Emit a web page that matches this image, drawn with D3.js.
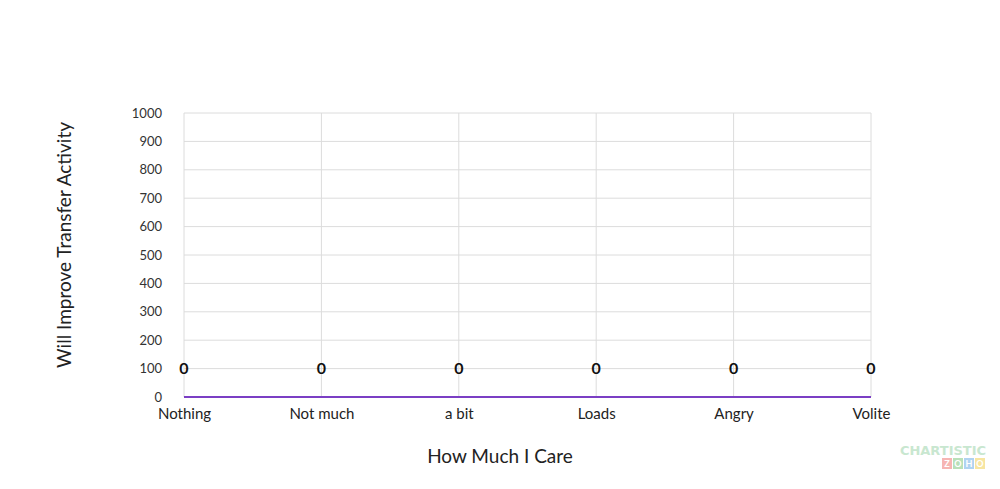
<!DOCTYPE html>
<html><head><meta charset="utf-8">
<script src="https://cdn.jsdelivr.net/npm/d3@7"></script>
<style>body{margin:0;background:#fff;} svg{display:block;font-family:Lato, "Open Sans", sans-serif;}</style>
</head><body>
<svg id="chart" width="1000" height="489"></svg>
<script>
const categories = ["Nothing","Not much","a bit","Loads","Angry","Volite"];
const values = [0,0,0,0,0,0];
const yTicks = [0,100,200,300,400,500,600,700,800,900,1000];
const xTitle = "How Much I Care";
const yTitle = "Will Improve Transfer Activity";

const svg = d3.select("#chart");
const m = {left:184, right:871, top:113, bottom:397};
const x = d3.scalePoint().domain(categories).range([m.left, m.right]).padding(0);
const y = d3.scaleLinear().domain([0,1000]).range([m.bottom, m.top]);

// horizontal grid
svg.append("g").selectAll("line").data(yTicks).join("line")
  .attr("x1", m.left).attr("x2", m.right)
  .attr("y1", d=>y(d)).attr("y2", d=>y(d))
  .attr("stroke","#dcdcdc").attr("stroke-width",1);
// vertical grid
svg.append("g").selectAll("line").data(categories).join("line")
  .attr("x1", d=>x(d)).attr("x2", d=>x(d))
  .attr("y1", m.top).attr("y2", m.bottom)
  .attr("stroke","#dcdcdc").attr("stroke-width",1);

// y axis labels
const yAxis = d3.axisLeft(y).tickValues(yTicks).tickFormat(d3.format("d")).tickSize(0).tickPadding(22);
const gy = svg.append("g").attr("transform",`translate(${m.left},0)`).call(yAxis);
gy.select(".domain").remove();
gy.selectAll("text").attr("font-size",13).attr("fill","#333").style("font-family","Lato, sans-serif");

// x axis labels
const xAxis = d3.axisBottom(x).tickSize(0).tickPadding(11);
const gx = svg.append("g").attr("transform",`translate(0,${m.bottom})`).call(xAxis);
gx.select(".domain").remove();
gx.selectAll("text").attr("font-size",15).attr("fill","#222").style("font-family","Lato, sans-serif");

// line
const line = d3.line().x((d,i)=>x(categories[i])).y(d=>y(d));
svg.append("path").datum(values).attr("d",line)
  .attr("fill","none").attr("stroke","#7b3fc4").attr("stroke-width",2);

// data labels
svg.append("g").selectAll("text").data(values).join("text")
  .attr("x",(d,i)=>x(categories[i])).attr("y",d=>y(d)-23)
  .attr("text-anchor","middle").attr("font-size",16).attr("font-weight","bold")
  .attr("fill","#111").text(d=>d);

// axis titles
svg.append("text").attr("x",500).attr("y",463)
  .attr("text-anchor","middle").attr("font-size",19).attr("fill","#222").text(xTitle);
svg.append("text").attr("transform",`translate(71,245) rotate(-90)`)
  .attr("text-anchor","middle").attr("font-size",19).attr("fill","#222").text(yTitle);

// watermark
svg.append("text").attr("x",943).attr("y",455).attr("text-anchor","middle")
  .attr("font-size",13).attr("font-weight","bold").attr("fill","#bfe3c8").attr("opacity",0.85)
  .style("font-family","Verdana, DejaVu Sans, sans-serif").text("CHARTISTIC");
const zoho = [["Z","#f4a3a0"],["O","#a8d8a8"],["H","#9cc8ee"],["O","#f5df8a"]];
zoho.forEach((z,i)=>{
  svg.append("rect").attr("x",942+i*11).attr("y",458).attr("width",10).attr("height",11).attr("fill",z[1]).attr("opacity",0.8);
  svg.append("text").attr("x",947+i*11).attr("y",467).attr("text-anchor","middle").attr("font-size",9)
    .attr("font-weight","bold").attr("fill","#fff").text(z[0]);
});
</script>
</body></html>
